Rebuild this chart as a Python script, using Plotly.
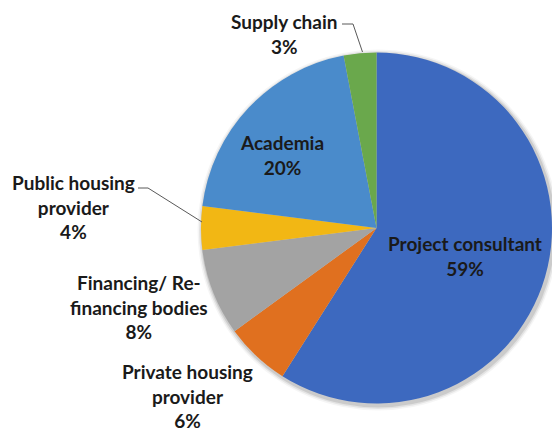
import plotly.graph_objects as go

labels = ["Project consultant", "Private housing<br>provider", "Financing/ Re-<br>financing bodies",
          "Public housing<br>provider", "Academia", "Supply chain"]
values = [59, 6, 8, 4, 20, 3]
colors = ["#3d69bf", "#e0701f", "#a3a3a3", "#f2b714", "#4a8bcb", "#6aa84c"]
# label block centres in pixels (x, y from top)
label_pos = [(464.5, 255.5), (187, 395.5), (139, 307), (73.5, 207), (282, 154.5), (284, 34)]

W, H = 552, 430
cx, cy, r = 377, 228, 176

fig = go.Figure()
fig.add_trace(go.Pie(
    labels=labels, values=values, sort=False, direction="clockwise", rotation=0,
    marker=dict(colors=colors, line=dict(width=0)),
    textinfo="none", hoverinfo="label+percent", showlegend=False,
    domain=dict(x=[(cx - r) / W, 1.0], y=[1 - (cy + r) / H, 1 - (cy - r) / H]),
))

tot = sum(values)
for lab, v, (px, py) in zip(labels, values, label_pos):
    fig.add_annotation(
        x=px / W, y=1 - py / H, xref="paper", yref="paper",
        text=f"{lab}<br>{round(100 * v / tot)}%", showarrow=False,
        xanchor="center", yanchor="middle", align="center",
        font=dict(family="Lato", size=19, color="#1a1a1a", weight="bold"),
    )

def path(pts):
    return "M " + " L ".join(f"{x / W} {1 - y / H}" for x, y in pts)

for pts in [[(342, 24), (353, 24), (362.5, 52)], [(138, 188), (148, 188), (202, 222)]]:
    fig.add_shape(type="path", path=path(pts), xref="paper", yref="paper",
                  line=dict(color="#595959", width=1))

# soft shadow
for i, op in enumerate([0.10, 0.07, 0.04]):
    d = 1.5 * (i + 1)
    fig.add_shape(type="circle", xref="paper", yref="paper", layer="below",
                  x0=(cx - r - d + 1) / W, x1=(cx + r + d + 1) / W,
                  y0=1 - (cy + r + d + 2) / H, y1=1 - (cy - r - d + 2) / H,
                  fillcolor=f"rgba(0,0,0,{op})", line=dict(width=0))

fig.update_layout(width=W, height=H, margin=dict(l=0, r=0, t=0, b=0),
                  paper_bgcolor="white", plot_bgcolor="white")
fig.write_html("out.html", config={"displayModeBar": False},
               post_script="document.body.style.margin='0';")
